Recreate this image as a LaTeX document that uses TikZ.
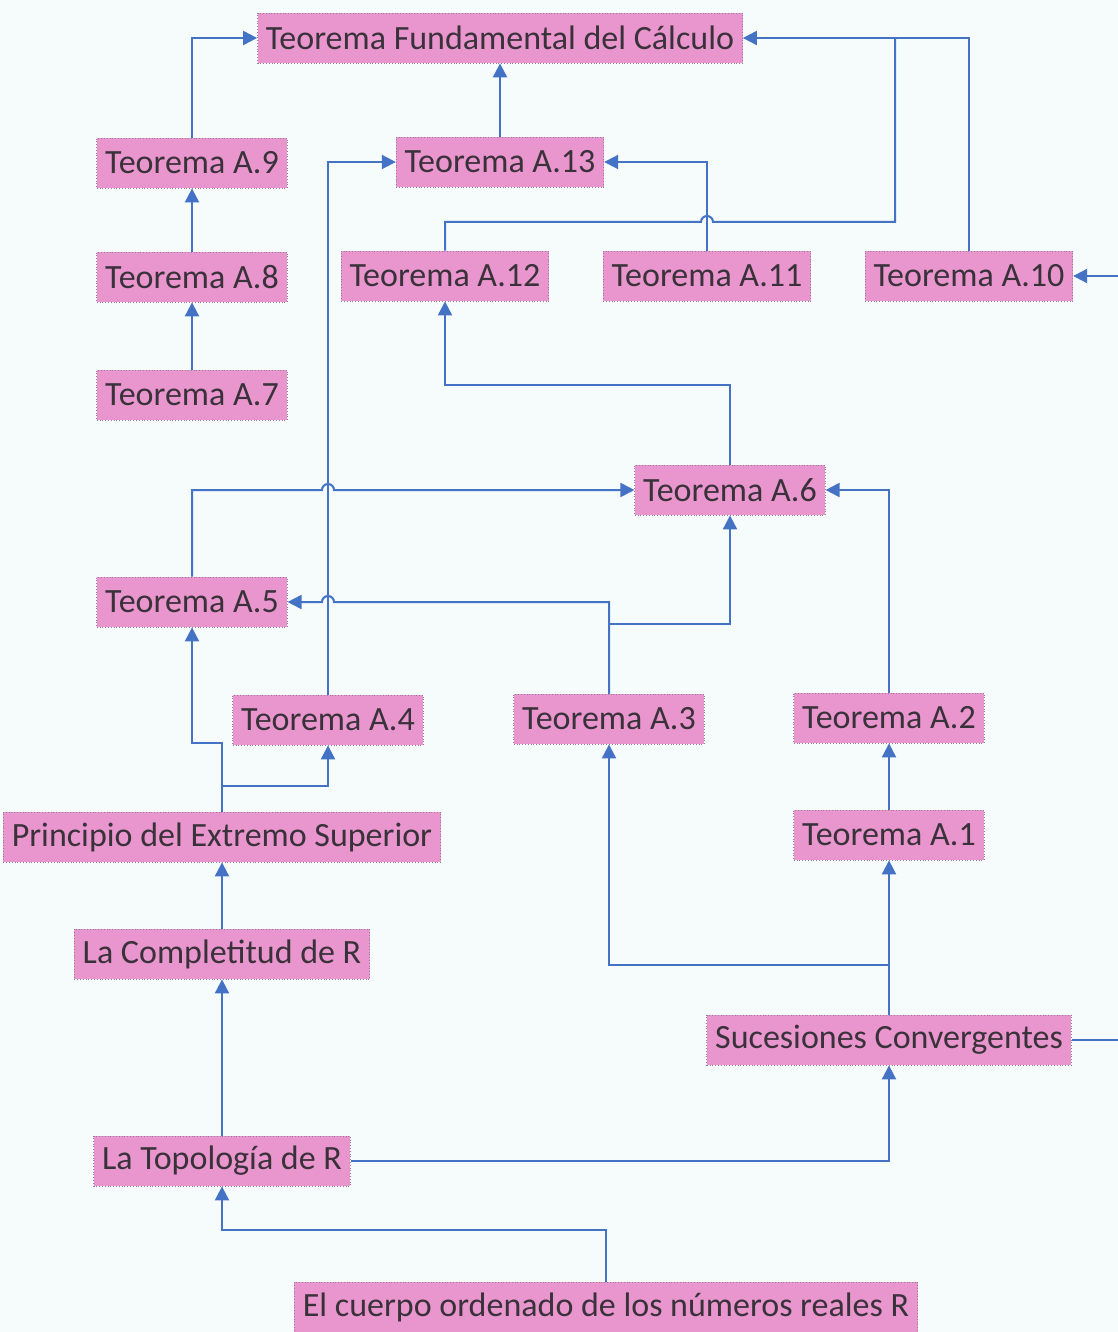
\documentclass[tikz,border=0pt]{standalone}
\usepackage{fontspec}
\setmainfont{Carlito}
\usetikzlibrary{arrows.meta}
\definecolor{cajarosa}{RGB}{234,150,206}
\definecolor{bordecaja}{RGB}{150,120,160}
\definecolor{azulpil}{RGB}{68,114,196}
\definecolor{fondo}{RGB}{246,251,251}
\definecolor{texto}{RGB}{58,50,58}

\begin{document}
\begin{tikzpicture}[%
  x=0.5pt,
  y=-0.5pt,
  >={Triangle[length=7pt,width=7pt]},
  caja/.style={
    fill=cajarosa,
    draw=bordecaja,
    densely dotted,
    line width=0.4pt,
    text=texto,
    inner xsep=4.2pt,
    inner ysep=0pt,
    minimum height=25pt,
    font=\fontsize{17}{20}\selectfont},
  pil/.style={
    ->,
    draw=azulpil,
    line width=1pt,
    solid},
  lin/.style={
    draw=azulpil,
    line width=1pt}
  ]
  \useasboundingbox (0,0) rectangle (1118,1332);
  \fill[fondo] (0,0) rectangle (1118,1332);
  %% Nodes
  \node[caja] (TFC) at (500,38) {Teorema Fundamental del Cálculo};
  \node[caja] (T9) at (192,163) {Teorema A.9};
  \node[caja] (T13) at (500,162) {Teorema A.13};
  \node[caja] (T8) at (192,277) {Teorema A.8};
  \node[caja] (T12) at (445,276) {Teorema A.12};
  \node[caja] (T11) at (707,276) {Teorema A.11};
  \node[caja] (T10) at (969,276) {Teorema A.10};
  \node[caja] (T7) at (192,395) {Teorema A.7};
  \node[caja] (T6) at (730,490) {Teorema A.6};
  \node[caja] (T5) at (192,602) {Teorema A.5};
  \node[caja] (T4) at (328,720) {Teorema A.4};
  \node[caja] (T3) at (609,719) {Teorema A.3};
  \node[caja] (T2) at (889,718) {Teorema A.2};
  \node[caja] (PES) at (222,837) {Principio del Extremo Superior};
  \node[caja] (T1) at (889,835) {Teorema A.1};
  \node[caja] (LCR) at (222,954) {La Completitud de R};
  \node[caja] (SC) at (889,1040) {Sucesiones Convergentes};
  \node[caja] (LTR) at (222,1161) {La Topología de R};
  \node[caja] (ECO) at (606,1307) {El cuerpo ordenado de los números reales R};
  %% Edges
  \draw[pil] (T9.north) |- (TFC.west);
  \draw[pil] (T13.north) -- (TFC.south);
  \draw[pil] (T10.north) |- (TFC.east);
  \draw[lin] (T12.north) |- (701,222) arc[start angle=180,end angle=0,radius=3pt] -| (895,38);
  \draw[pil] (T11.north) |- (T13.east);
  \draw[pil] (T8) -- (T9);
  \draw[pil] (T7) -- (T8);
  \draw[pil] (T6.north) -- ++(0,-80) -| (T12.south);
  \draw[pil] (T4.north) |- (T13.west);
  \draw[pil] (T5.north) |- (322,490) arc[start angle=180,end angle=0,radius=3pt] -- (T6.west);
  \draw[pil] (T3.north) |- (334,602) arc[start angle=0,end angle=180,radius=3pt] -- (T5.east);
  \draw[pil] (T3.north) -- ++(0,-70) -| (T6.south);
  \draw[pil] (T2.north) |- (T6.east);
  \draw[pil] (T1) -- (T2);
  \draw[pil] (PES.north) -- ++(0,-69) -| (T5.south);
  \draw[pil] (PES.north) -- ++(0,-26) -| (T4.south);
  \draw[pil] (LCR) -- (PES);
  \draw[pil] (LTR) -- (LCR);
  \draw[pil] (LTR.east) -| (SC.south);
  \draw[pil] (ECO.north) -- ++(0,-52) -| (LTR.south);
  \draw[pil] (SC) -- (T1);
  \draw[pil] (SC.north) -- ++(0,-50) -| (T3.south);
  \draw[pil] (SC.east) -- (1130,1040) |- (T10.east);
\end{tikzpicture}
\end{document}
